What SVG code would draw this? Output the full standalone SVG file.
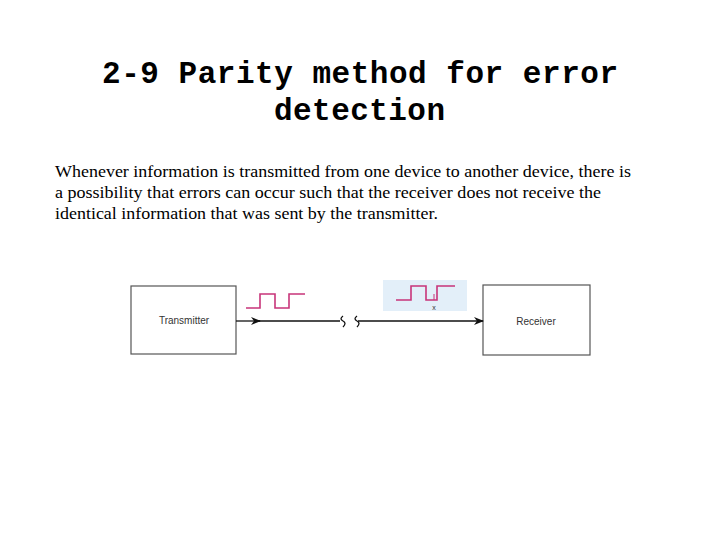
<svg xmlns="http://www.w3.org/2000/svg" width="720" height="540" viewBox="0 0 720 540">
<style>
.box{fill:#fff;stroke:#555;stroke-width:1.2}
.lbl{font-family:"Liberation Sans",Arial,sans-serif;font-size:10px;fill:#333}
.wave{fill:none;stroke:#c8357a;stroke-width:1.6}
.ln{stroke:#111;stroke-width:1.3;fill:none}
</style>
<defs><marker id="ar" markerWidth="10" markerHeight="8" refX="9" refY="4" orient="auto" markerUnits="userSpaceOnUse"><path d="M0,0 L10,4 L0,8 L3,4 Z" fill="#111"/></marker></defs>
<rect width="720" height="540" fill="#fff"/>
<g font-family="Liberation Mono,Courier New,monospace" font-size="31" font-weight="bold">
<text x="102" y="83" textLength="516" lengthAdjust="spacing">2-9 Parity method for error</text>
<text x="274" y="120" textLength="171" lengthAdjust="spacing">detection</text>
</g>
<g font-family="Liberation Serif,Times New Roman,serif" font-size="17">
<text x="55" y="177" textLength="576" lengthAdjust="spacingAndGlyphs">Whenever information is transmitted from one device to another device, there is</text>
<text x="55" y="198" textLength="546" lengthAdjust="spacingAndGlyphs">a possibility that errors can occur such that the receiver does not receive the</text>
<text x="55" y="219" textLength="383" lengthAdjust="spacingAndGlyphs">identical information that was sent by the transmitter.</text>
</g>
<g id="transmitter"><rect class="box" x="131" y="286" width="105" height="68"/><text class="lbl" x="184" y="324" text-anchor="middle">Transmitter</text></g>
<g id="receiver"><rect class="box" x="483" y="285" width="107" height="70"/><text class="lbl" x="536" y="325" text-anchor="middle">Receiver</text></g>
<g id="tx-wave"><path class="wave" d="M246,308 H260 V294 H275 V308 H289 V294 H305"/></g>
<g id="rx-wave"><rect x="383" y="280" width="84" height="31" fill="#e3eff9"/>
<path class="wave" d="M396,300 H411 V286 H426 V300 H437 V286 H455"/>
<path d="M434,294 V300" stroke="#c8357a" stroke-width="1"/>
<text x="434" y="310" font-family="Liberation Sans,Arial,sans-serif" font-size="7" text-anchor="middle" fill="#333">x</text></g>
<g id="connectors">
<path class="ln" d="M236,321 H260" marker-end="url(#ar)"/>
<path class="ln" d="M256,321 H340"/>
<path class="ln" d="M343,316 q-4,3 0,5 q4,2 0,6"/>
<path class="ln" d="M357,316 q-4,3 0,5 q4,2 0,6"/>
<path class="ln" d="M358,321 H483" marker-end="url(#ar)"/>
</g>
</svg>
